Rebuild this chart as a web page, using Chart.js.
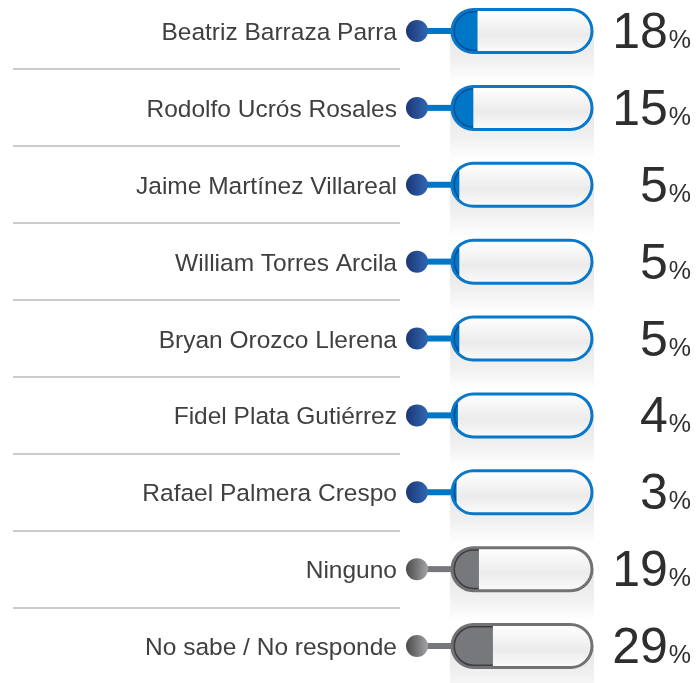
<!DOCTYPE html>
<html>
<head>
<meta charset="utf-8">
<script src="https://cdn.jsdelivr.net/npm/chart.js@4.4.1/dist/chart.umd.min.js"></script>
<style>
    body { margin: 0; background: #ffffff; }
    #wrap { width: 697px; height: 683px; position: relative; }
</style>
</head>
<body>
<div id="wrap"><canvas id="myChart"></canvas></div>
<script>
// values
const names = [
    'Beatriz Barraza Parra',
    'Rodolfo Ucrós Rosales',
    'Jaime Martínez Villareal',
    'William Torres Arcila',
    'Bryan Orozco Llerena',
    'Fidel Plata Gutiérrez',
    'Rafael Palmera Crespo',
    'Ninguno',
    'No sabe / No responde'
];
const percents = [18, 15, 5, 5, 5, 4, 3, 19, 29];
const isCandidate = [true, true, true, true, true, true, true, false, false];

const BLUE = { fill: '#0077c6', edge: '#0a78c8', dark: '#004f99', dot1: '#1c3774', dot2: '#3067b4' };
const GRAY = { fill: '#77787c', edge: '#727275', dark: '#3d3d40', dot1: '#4a4a4c', dot2: '#a4a4a6' };
const PILL_H = 43;

function theme(i) {
    return isCandidate[i] ? BLUE : GRAY;
}

function pillPath(ctx, left, right, cy, h) {
    const r = h / 2;
    ctx.beginPath();
    ctx.moveTo(left + r, cy - r);
    ctx.lineTo(right - r, cy - r);
    ctx.arc(right - r, cy, r, -Math.PI / 2, Math.PI / 2);
    ctx.lineTo(left + r, cy + r);
    ctx.arc(left + r, cy, r, Math.PI / 2, Math.PI * 1.5);
    ctx.closePath();
}

const pillPlugin = {
    id: 'pills',
    beforeDatasetsDraw(chart) {
        const ctx = chart.ctx;
        const xs = chart.scales.x;
        const ys = chart.scales.y;
        const left = xs.getPixelForValue(0);
        const right = xs.getPixelForValue(100);

        ctx.save();
        // separators under the names
        ctx.strokeStyle = '#cbcbcb';
        ctx.lineWidth = 2;
        for (let i = 0; i < names.length - 1; i++) {
            const y = Math.round((ys.getPixelForValue(i) + ys.getPixelForValue(i + 1)) / 2);
            ctx.beginPath();
            ctx.moveTo(13, y);
            ctx.lineTo(400, y);
            ctx.stroke();
        }

        names.forEach((name, i) => {
            const cy = ys.getPixelForValue(i);
            const t = theme(i);

            // soft shadow under the pill
            const sh = ctx.createLinearGradient(0, cy, 0, cy + PILL_H / 2 + 30);
            sh.addColorStop(0, 'rgba(0,0,0,0.10)');
            sh.addColorStop(0.55, 'rgba(0,0,0,0.06)');
            sh.addColorStop(1, 'rgba(0,0,0,0)');
            ctx.fillStyle = sh;
            ctx.fillRect(left - 2, cy, right - left + 4, PILL_H / 2 + 30);

            // track
            const g = ctx.createLinearGradient(0, cy - PILL_H / 2, 0, cy + PILL_H / 2);
            g.addColorStop(0, '#ffffff');
            g.addColorStop(0.6, '#ebebeb');
            g.addColorStop(1, '#fbfbfb');
            pillPath(ctx, left, right, cy, PILL_H);
            ctx.fillStyle = g;
            ctx.fill();

            // connector and dot
            ctx.fillStyle = t.fill;
            ctx.fillRect(426, cy - 3, left - 426, 6);
            const dg = ctx.createLinearGradient(406, 0, 428, 0);
            dg.addColorStop(0, t.dot1);
            dg.addColorStop(1, t.dot2);
            ctx.fillStyle = dg;
            ctx.beginPath();
            ctx.arc(417, cy, 11, 0, Math.PI * 2);
            ctx.fill();

            // name
            ctx.fillStyle = '#404040';
            ctx.font = '24.5px "Liberation Sans", Arial, sans-serif';
            ctx.textAlign = 'right';
            ctx.textBaseline = 'alphabetic';
            ctx.fillText(name, 397, cy + 9);
        });

        // clip value bars to the pill shapes
        ctx.restore();
        ctx.save();
        ctx.beginPath();
        names.forEach((name, i) => {
            const cy = ys.getPixelForValue(i);
            const r = PILL_H / 2;
            ctx.moveTo(left + r, cy - r);
            ctx.lineTo(right - r, cy - r);
            ctx.arc(right - r, cy, r, -Math.PI / 2, Math.PI / 2);
            ctx.lineTo(left + r, cy + r);
            ctx.arc(left + r, cy, r, Math.PI / 2, Math.PI * 1.5);
            ctx.closePath();
        });
        ctx.clip();
    },
    afterDatasetsDraw(chart) {
        const ctx = chart.ctx;
        const xs = chart.scales.x;
        const ys = chart.scales.y;
        const left = xs.getPixelForValue(0);
        const right = xs.getPixelForValue(100);
        const bars = chart.getDatasetMeta(0).data;

        // darker inner edge on the filled part
        bars.forEach((bar, i) => {
            const cy = ys.getPixelForValue(i);
            ctx.save();
            ctx.beginPath();
            ctx.rect(bar.base, cy - PILL_H, bar.x - bar.base, PILL_H * 2);
            ctx.clip();
            pillPath(ctx, left, right, cy, PILL_H);
            ctx.strokeStyle = theme(i).dark;
            ctx.lineWidth = 6;
            ctx.stroke();
            ctx.restore();
        });
        ctx.restore();

        ctx.save();
        names.forEach((name, i) => {
            const cy = ys.getPixelForValue(i);
            pillPath(ctx, left, right, cy, PILL_H);
            ctx.strokeStyle = theme(i).edge;
            ctx.lineWidth = 3;
            ctx.stroke();

            // percentage with small % sign
            ctx.fillStyle = '#2e2e2e';
            ctx.textAlign = 'right';
            ctx.textBaseline = 'alphabetic';
            ctx.font = '25px "Liberation Sans", Arial, sans-serif';
            const pw = ctx.measureText('%').width;
            ctx.fillText('%', 691, cy + 17);
            ctx.font = '50px "Liberation Sans", Arial, sans-serif';
            ctx.fillText(String(percents[i]), 690 - pw, cy + 17);
        });
        ctx.restore();
    }
};

const ctx = document.getElementById('myChart').getContext('2d');
new Chart(ctx, {
    type: 'bar',
    data: {
        labels: names,
        datasets: [{
            data: percents,
            backgroundColor: names.map((n, i) => theme(i).fill),
            borderWidth: 0,
            barThickness: PILL_H,
            clip: false
        }]
    },
    options: {
        indexAxis: 'y',
        responsive: true,
        maintainAspectRatio: false,
        animation: false,
        layout: { padding: { left: 452, right: 105, top: 31, bottom: 37 } },
        scales: {
            x: { type: 'linear', min: 0, max: 100, display: false },
            y: { type: 'category', offset: false, display: false }
        },
        plugins: {
            legend: { display: false },
            tooltip: { enabled: false }
        }
    },
    plugins: [pillPlugin]
});
</script>
</body>
</html>
